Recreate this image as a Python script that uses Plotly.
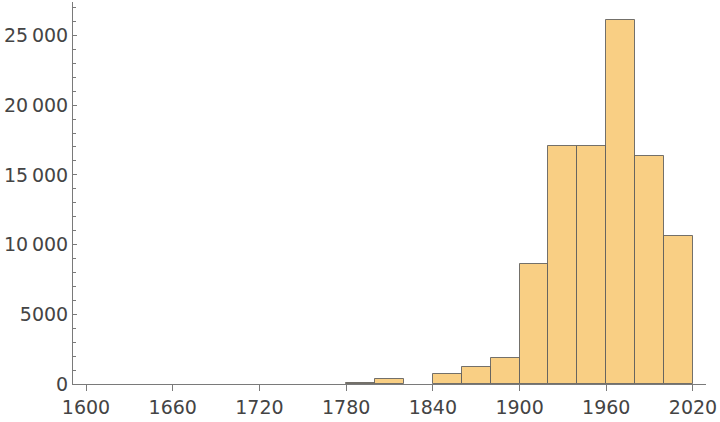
import plotly.graph_objects as go

bin_starts = [1780, 1800, 1820, 1840, 1860, 1880, 1900, 1920, 1940, 1960, 1980, 2000]
bin_width = 20
counts = [60, 340, 0, 710, 1200, 1840, 8600, 17100, 17100, 26080, 16330, 10600]

y_tick_vals = [0, 5000, 10000, 15000, 20000, 25000]
y_tick_text = ["0", "5000", "10\u2009000", "15\u2009000", "20\u2009000", "25\u2009000"]
x_tick_vals = [1600, 1660, 1720, 1780, 1840, 1900, 1960, 2020]

# empty bins are not drawn
xs = [s + bin_width / 2 for s, c in zip(bin_starts, counts) if c > 0]
ys = [c for c in counts if c > 0]

fig = go.Figure(go.Bar(
    x=xs, y=ys, width=bin_width,
    marker=dict(color="#F9CF84", line=dict(color="rgba(90,90,90,0.85)", width=1)),
    hoverinfo="skip",
))

axis_col = "#7a7a7a"
font = dict(family="DejaVu Sans", size=19, color="#444444")

fig.update_layout(
    width=720, height=422,
    margin=dict(l=73, r=14, t=2, b=38, autoexpand=False),
    paper_bgcolor="white", plot_bgcolor="white",
    showlegend=False, bargap=0,
    font=font,
)
fig.update_xaxes(
    range=[1591, 2029], showgrid=False, zeroline=False, automargin=False,
    showline=True, linecolor=axis_col, linewidth=1,
    tickvals=x_tick_vals, ticks="outside", ticklen=6, tickcolor=axis_col,
    tickfont=font,
)
fig.update_yaxes(
    range=[0, 27400], showgrid=False, zeroline=False, automargin=False,
    showline=True, linecolor=axis_col, linewidth=1,
    tickvals=y_tick_vals, ticktext=y_tick_text,
    ticks="inside", ticklen=4, tickcolor=axis_col,
    minor=dict(dtick=1000, tick0=0, ticks="inside", ticklen=2.5, tickcolor=axis_col),
    tickfont=font,
)

fig.write_html(
    "out.html",
    config={"displayModeBar": False},
    post_script="document.body.style.margin='0';document.body.style.overflow='hidden';",
)
